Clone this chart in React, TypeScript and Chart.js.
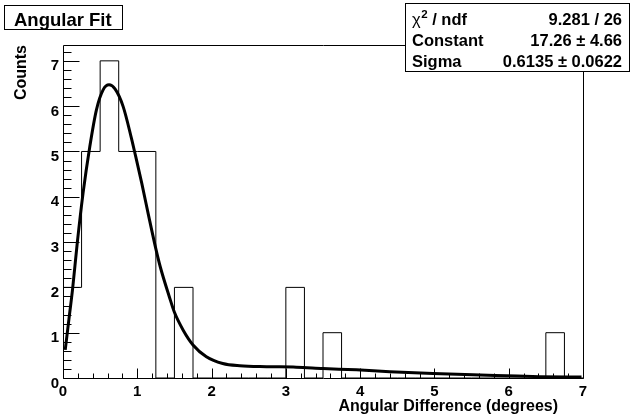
import React, { useEffect, useRef } from "react";
import { Chart, registerables } from "chart.js";

Chart.register(...registerables);

// ---- Data ----
const binLowEdges = [
  0, 0.25, 0.5, 0.75, 1, 1.25, 1.5, 1.75, 2, 2.25, 2.5, 2.75, 3, 3.25,
  3.5, 3.75, 4, 4.25, 4.5, 4.75, 5, 5.25, 5.5, 5.75, 6, 6.25, 6.5, 6.75,
];
const binCounts = [
  2, 5, 7, 5, 5, 0, 2, 0, 0, 0, 0, 0, 2, 0,
  1, 0, 0, 0, 0, 0, 0, 0, 0, 0, 0, 0, 1, 0,
];
const histMax = 7;

const fitX = [
  0.03, 0.08, 0.13, 0.19, 0.27, 0.36, 0.45, 0.54, 0.62, 0.7, 0.81, 0.92, 0.97,
  1.06, 1.15, 1.25, 1.31, 1.43, 1.5, 1.62, 1.75, 1.93, 2.15, 2.38, 2.74, 3.14,
  3.5, 3.95, 4.4, 4.98, 5.52, 5.97, 6.42, 6.98,
];
const fitY = [
  0.62, 1.3, 1.98, 2.95, 4.08, 5.1, 5.92, 6.36, 6.47, 6.38, 5.99, 5.3, 4.95,
  4.3, 3.6, 2.85, 2.45, 1.8, 1.45, 1.05, 0.73, 0.47, 0.32, 0.27, 0.25, 0.24,
  0.21, 0.18, 0.14, 0.1, 0.07, 0.05, 0.03, 0.02,
];

const xTickLabels = [0, 1, 2, 3, 4, 5, 6, 7];
const yTickLabels = [0, 1, 2, 3, 4, 5, 6, 7];

const titleText = "Angular Fit";
const xTitle = "Angular Difference (degrees)";
const yTitle = "Counts";
const statNames = ["/ ndf", "Constant", "Sigma"];
const statValues = ["9.281 / 26", "17.26 \u00b1 4.66", "0.6135 \u00b1 0.0622"];

const FONT = "'Liberation Sans', Arial, Helvetica, sans-serif";

const decorPlugin = {
  id: "rootDecor",
  afterDraw(chart: any) {
    const { ctx, chartArea: a, scales } = chart;
    const xs = scales.x;
    const ys = scales.y;
    const L = Math.round(a.left) + 0.5;
    const R = Math.round(a.right) + 0.5;
    const T = Math.round(a.top) + 0.5;
    const B = Math.round(a.bottom) + 0.5;
    ctx.save();
    ctx.strokeStyle = "#000";
    ctx.lineWidth = 1;
    // frame
    ctx.beginPath();
    ctx.moveTo(L, T);
    ctx.lineTo(R, T);
    ctx.lineTo(R, B);
    ctx.lineTo(L, B);
    ctx.closePath();
    ctx.stroke();

    // x ticks (inward)
    ctx.beginPath();
    for (let i = 0; i <= 35; i++) {
      const v = i * 0.2;
      const px = Math.round(xs.getPixelForValue(v)) + 0.5;
      const major = i % 5 === 0;
      const len = major ? 10 : 5;
      ctx.moveTo(px, B);
      ctx.lineTo(px, B - len);
    }
    // y ticks (inward)
    for (let i = 0; i <= 36; i++) {
      const v = i * 0.2;
      if (v > ys.max) break;
      const py = Math.round(ys.getPixelForValue(v)) + 0.5;
      const major = i % 5 === 0;
      const len = major ? 16 : 8;
      ctx.moveTo(L, py);
      ctx.lineTo(L + len, py);
    }
    ctx.stroke();

    // axis titles
    ctx.fillStyle = "#000";
    ctx.font = `bold 16px ${FONT}`;
    ctx.textAlign = "right";
    ctx.textBaseline = "alphabetic";
    ctx.fillText(xTitle, 558, 411);

    ctx.save();
    ctx.translate(26, 45);
    ctx.rotate(-Math.PI / 2);
    ctx.textAlign = "right";
    ctx.fillText(yTitle, 0, 0);
    ctx.restore();

    // title box
    ctx.fillStyle = "#fff";
    ctx.fillRect(4.5, 5.5, 118, 24);
    ctx.strokeRect(4.5, 5.5, 118, 24);
    ctx.fillStyle = "#000";
    ctx.font = `bold 18.5px ${FONT}`;
    ctx.textAlign = "left";
    ctx.fillText(titleText, 14, 26);

    // stats box
    ctx.fillStyle = "#fff";
    ctx.fillRect(405.5, 3.5, 224, 68);
    ctx.strokeRect(405.5, 3.5, 224, 68);
    ctx.fillStyle = "#000";
    const baselines = [25, 46, 67];
    // chi^2 label
    ctx.textAlign = "left";
    ctx.font = `16.5px ${FONT}`;
    ctx.fillText("\u03c7", 412, baselines[0]);
    const chiW = ctx.measureText("\u03c7").width;
    ctx.font = `bold 11.5px ${FONT}`;
    ctx.fillText("2", 412 + chiW + 0.5, baselines[0] - 7);
    const twoW = ctx.measureText("2").width;
    ctx.font = `bold 16.5px ${FONT}`;
    ctx.fillText(" " + statNames[0], 412 + chiW + twoW + 0.5, baselines[0]);
    ctx.fillText(statNames[1], 412, baselines[1]);
    ctx.fillText(statNames[2], 412, baselines[2]);
    ctx.textAlign = "right";
    for (let i = 0; i < statValues.length; i++) {
      ctx.fillText(statValues[i], 622, baselines[i]);
    }
    ctx.restore();
  },
};

export default function App() {
  const canvasRef = useRef<HTMLCanvasElement | null>(null);

  useEffect(() => {
    const canvas = canvasRef.current;
    if (!canvas) return;

    const histPoints: { x: number; y: number }[] = [{ x: binLowEdges[0], y: 0 }];
    for (let i = 0; i < binLowEdges.length; i++) {
      histPoints.push({ x: binLowEdges[i], y: binCounts[i] });
    }
    histPoints.push({ x: histMax, y: binCounts[binCounts.length - 1] });

    const fitPoints = fitX.map((x, i) => ({ x, y: fitY[i] }));

    const tickFont = { family: FONT, weight: "bold" as const, size: 15 };

    const chart = new Chart(canvas, {
      type: "line",
      data: {
        datasets: [
          {
            data: histPoints,
            stepped: "before",
            borderColor: "#000",
            borderWidth: 1,
            pointRadius: 0,
            fill: false,
          },
          {
            data: fitPoints,
            borderColor: "#000",
            borderWidth: 3,
            pointRadius: 0,
            cubicInterpolationMode: "monotone",
            fill: false,
          },
        ],
      } as any,
      options: {
        responsive: false,
        animation: false,
        devicePixelRatio: 1,
        layout: { padding: { top: 45, right: 48, left: 0, bottom: 0 } },
        plugins: {
          legend: { display: false },
          tooltip: { enabled: false },
        },
        scales: {
          x: {
            type: "linear",
            min: xTickLabels[0],
            max: xTickLabels[xTickLabels.length - 1],
            afterFit: (s: any) => {
              s.height = 38;
            },
            grid: { display: false, drawTicks: false },
            border: { display: false },
            ticks: {
              stepSize: 1,
              padding: 5,
              color: "#000",
              font: tickFont,
              maxRotation: 0,
              autoSkip: false,
              callback: (v: any) => (xTickLabels.includes(Number(v)) ? String(v) : ""),
            },
          },
          y: {
            type: "linear",
            min: 0,
            max: 7.35,
            afterFit: (s: any) => {
              s.width = 63;
            },
            grid: { display: false, drawTicks: false },
            border: { display: false },
            ticks: {
              stepSize: 1,
              includeBounds: false,
              labelOffset: 5.5,
              padding: 4,
              color: "#000",
              font: tickFont,
              autoSkip: false,
              callback: (v: any) => (yTickLabels.includes(Number(v)) ? String(v) : ""),
            },
          },
        },
      } as any,
      plugins: [decorPlugin],
    });

    return () => chart.destroy();
  }, []);

  return (
    <div style={{ position: "fixed", left: 0, top: 0, width: 631, height: 416, background: "#fff" }}>
      <canvas ref={canvasRef} width={631} height={416} style={{ width: 631, height: 416, display: "block" }} />
    </div>
  );
}
